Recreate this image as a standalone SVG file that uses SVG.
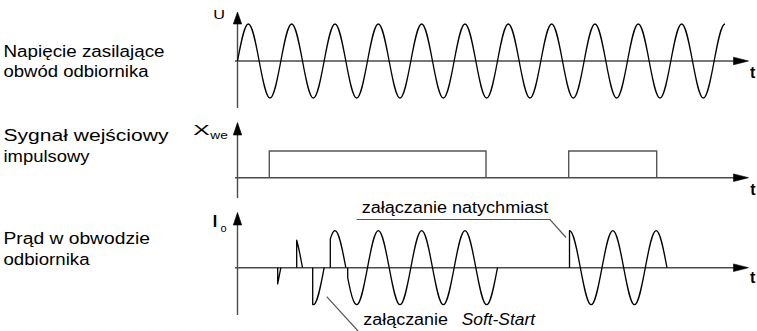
<svg xmlns="http://www.w3.org/2000/svg" width="757" height="331" viewBox="0 0 757 331">
<style>
text{font-family:"Liberation Sans",Arial,sans-serif;fill:#000}
.lbl{font-size:16px}
.ax{stroke:#4a4a4a;stroke-width:1.4;fill:none}
.ah{fill:#000;stroke:#000;stroke-width:0.6}
.wave{stroke:#000;stroke-width:1.3;fill:none;stroke-linejoin:round}
.pulse{stroke:#555;stroke-width:1.4;fill:none}
.call{stroke:#555;stroke-width:1.2;fill:none}
.t{font-size:16px;font-weight:bold}
</style>
<rect width="757" height="331" fill="#fff"/>
<g id="labels">
<text class="lbl" x="3.5" y="57" textLength="161" lengthAdjust="spacingAndGlyphs">Napięcie zasilające</text>
<text class="lbl" x="3.5" y="77" textLength="145" lengthAdjust="spacingAndGlyphs">obwód odbiornika</text>
<text class="lbl" x="3.5" y="141" textLength="165" lengthAdjust="spacingAndGlyphs">Sygnał wejściowy</text>
<text class="lbl" x="3.5" y="161.5" textLength="86" lengthAdjust="spacingAndGlyphs">impulsowy</text>
<text class="lbl" x="3.5" y="243.5" textLength="146.5" lengthAdjust="spacingAndGlyphs">Prąd w obwodzie</text>
<text class="lbl" x="3.5" y="265" textLength="86" lengthAdjust="spacingAndGlyphs">odbiornika</text>
</g>
<g id="plot-voltage">
<line class="ax" x1="237.5" y1="22" x2="237.5" y2="108"/>
<path class="ah" d="M237.5,12 L233.3,24 L241.7,24 Z"/>
<line class="ax" x1="235" y1="61" x2="735" y2="61"/>
<path class="ah" d="M748.5,61 L733.5,57.2 L733.5,64.8 Z"/>
<text x="213.3" y="18.5" style="font-size:13px" textLength="11.7" lengthAdjust="spacingAndGlyphs">U</text>
<text class="t" x="750" y="78.3">t</text>
<path class="wave" d="M237.5,61
c3.622,-19.43 6.934,-37 10.833,-37 c3.899,0 7.211,17.57 10.833,37 c3.622,19.43 6.934,37 10.833,37 c3.899,0 7.211,-17.57 10.833,-37
c3.622,-19.43 6.934,-37 10.833,-37 c3.899,0 7.211,17.57 10.833,37 c3.622,19.43 6.934,37 10.833,37 c3.899,0 7.211,-17.57 10.833,-37
c3.622,-19.43 6.934,-37 10.833,-37 c3.899,0 7.211,17.57 10.833,37 c3.622,19.43 6.934,37 10.833,37 c3.899,0 7.211,-17.57 10.833,-37
c3.622,-19.43 6.934,-37 10.833,-37 c3.899,0 7.211,17.57 10.833,37 c3.622,19.43 6.934,37 10.833,37 c3.899,0 7.211,-17.57 10.833,-37
c3.622,-19.43 6.934,-37 10.833,-37 c3.899,0 7.211,17.57 10.833,37 c3.622,19.43 6.934,37 10.833,37 c3.899,0 7.211,-17.57 10.833,-37
c3.622,-19.43 6.934,-37 10.833,-37 c3.899,0 7.211,17.57 10.833,37 c3.622,19.43 6.934,37 10.833,37 c3.899,0 7.211,-17.57 10.833,-37
c3.622,-19.43 6.934,-37 10.833,-37 c3.899,0 7.211,17.57 10.833,37 c3.622,19.43 6.934,37 10.833,37 c3.899,0 7.211,-17.57 10.833,-37
c3.622,-19.43 6.934,-37 10.833,-37 c3.899,0 7.211,17.57 10.833,37 c3.622,19.43 6.934,37 10.833,37 c3.899,0 7.211,-17.57 10.833,-37
c3.622,-19.43 6.934,-37 10.833,-37 c3.899,0 7.211,17.57 10.833,37 c3.622,19.43 6.934,37 10.833,37 c3.899,0 7.211,-17.57 10.833,-37
c3.622,-19.43 6.934,-37 10.833,-37 c3.899,0 7.211,17.57 10.833,37 c3.622,19.43 6.934,37 10.833,37 c3.899,0 7.211,-17.57 10.833,-37
c3.622,-19.43 6.934,-37 10.833,-37 c3.899,0 7.211,17.57 10.833,37 c3.622,19.43 6.934,37 10.833,37 c3.899,0 7.211,-17.57 10.833,-37
c3.622,-19.43 6.934,-37 10.833,-37"/>
</g>
<g id="plot-input">
<line class="ax" x1="237.5" y1="133" x2="237.5" y2="198"/>
<path class="ah" d="M237.5,122.5 L233.3,135 L241.7,135 Z"/>
<line class="ax" x1="235" y1="177.7" x2="735" y2="177.7"/>
<path class="ah" d="M748.5,177.7 L733.5,173.9 L733.5,181.5 Z"/>
<text x="193.3" y="135" style="font-size:14px" textLength="16.5" lengthAdjust="spacingAndGlyphs">X</text>
<text x="210.3" y="139.3" style="font-size:10.5px" textLength="17.5" lengthAdjust="spacingAndGlyphs">we</text>
<text class="t" x="750.3" y="195">t</text>
<path class="pulse" d="M269.3,177.7 V151 H486 V177.7 M568.7,177.7 V151 H656.7 V177.7"/>
</g>
<g id="plot-current">
<line class="ax" x1="237.5" y1="223" x2="237.5" y2="315"/>
<path class="ah" d="M237.5,212.5 L233.3,225 L241.7,225 Z"/>
<line class="ax" x1="235" y1="267.7" x2="735" y2="267.7"/>
<path class="ah" d="M748.5,267.7 L733.5,263.9 L733.5,271.5 Z"/>
<text x="212.8" y="226.8" style="font-size:16px;font-weight:bold">I</text>
<text x="220.5" y="231.7" style="font-size:11px">o</text>
<text class="t" x="750" y="283.3">t</text>
<path class="wave" d="M277.7,267.7 V283.9 L280.83,267.7
M296.7,267.7 V240.15 L297.67,243.9 L298.63,248 L299.6,252.6 L300.57,257.5 L301.53,262.5 L302.5,267.7
M312.7,267.7 V304.6 L313.33,304.7 c3.899,0 7.211,-17.57 10.833,-37
M330.3,267.7 V239 L331.5,235.4 L332.7,232.7 L333.9,231.2 L335,230.7 c3.899,0 7.211,17.57 10.833,37
M347.7,267.7 V277.6 L349,284.1 L350.5,290.9 L352,296.6 L353.5,300.9 L355,303.6 L356.67,304.7 c3.899,0 7.211,-17.57 10.833,-37
c3.622,-19.43 6.934,-37 10.833,-37 c3.899,0 7.211,17.57 10.833,37 c3.622,19.43 6.934,37 10.833,37 c3.899,0 7.211,-17.57 10.833,-37
c3.622,-19.43 6.934,-37 10.833,-37 c3.899,0 7.211,17.57 10.833,37 c3.622,19.43 6.934,37 10.833,37 c3.899,0 7.211,-17.57 10.833,-37
c3.622,-19.43 6.934,-37 10.833,-37 c3.899,0 7.211,17.57 10.833,37 c3.622,19.43 6.934,37 10.833,37 c3.899,0 7.211,-17.57 10.833,-37
M569.5,267.7 V230.7 c3.899,0 7.211,17.57 10.833,37 c3.622,19.43 6.934,37 10.833,37 c3.899,0 7.211,-17.57 10.833,-37
c3.622,-19.43 6.934,-37 10.833,-37 c3.899,0 7.211,17.57 10.833,37 c3.622,19.43 6.934,37 10.833,37 c3.899,0 7.211,-17.57 10.833,-37
c3.622,-19.43 6.934,-37 10.833,-37 c3.899,0 7.211,17.57 10.833,37"/>
</g>
<g id="connectors">
<polyline class="call" points="356.7,219.5 550,219.5 566,237.5"/>
<line class="call" x1="326.7" y1="296.7" x2="358" y2="331"/>
</g>
<g id="callout-labels">
<text class="lbl" x="361.7" y="212.7" textLength="186.6" lengthAdjust="spacingAndGlyphs">załączanie natychmiast</text>
<text class="lbl" x="363.3" y="325" textLength="84.7" lengthAdjust="spacingAndGlyphs">załączanie</text>
<text class="lbl" x="461.7" y="325" textLength="73.3" lengthAdjust="spacingAndGlyphs" font-style="italic">Soft-Start</text>
</g>
</svg>
